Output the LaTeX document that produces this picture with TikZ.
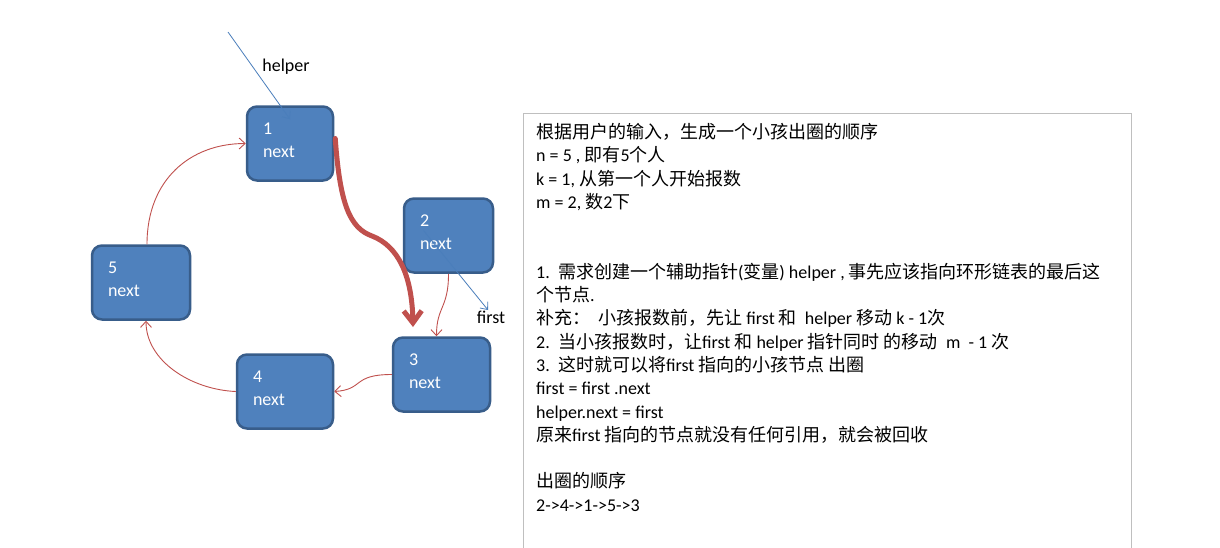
\documentclass[tikz,border=0pt]{standalone}
\usepackage{fontspec}
\setmainfont{Carlito}
\newfontfamily\cjk{Noto Sans CJK SC}
\usetikzlibrary{arrows.meta,calc}
\definecolor{NodeClr}{HTML}{4F81BD}
\definecolor{NodeLineClr}{HTML}{385D8A}
\definecolor{LinkClr}{HTML}{C0504D}
\definecolor{PtrClr}{HTML}{4A7EBB}
\definecolor{FrameClr}{HTML}{BFBFBF}
\newcommand\zh[1]{{\cjk #1}}

\begin{document}
\begin{tikzpicture}[x=1pt,y=-1pt,
  kid/.style={draw=NodeLineClr,line width=2.5pt,fill=NodeClr,rounded corners=10pt,
    text=white,font=\fontsize{18}{23}\selectfont,align=left,
    inner xsep=16pt,minimum height=74pt,text depth=29pt},
  link/.style={LinkClr,line width=0.9pt,-{Straight Barb[length=6pt,width=11pt]}},
  ptr/.style={PtrClr,line width=0.8pt,-{Straight Barb[length=6pt,width=10pt]}},
  ptrname/.style={font=\fontsize{18}{23}\selectfont,inner sep=0pt},
  notes/.style={font=\fontsize{18}{23.3}\selectfont,align=left,inner sep=0pt}]
\useasboundingbox[fill=white] (0,0) rectangle (1220,547);

% circular list
\node[kid,text width=54pt] (n1) at (290,143.5) {1\\next};
\node[kid,text width=57pt] (n2) at (448.5,235.5) {2\\next};
\node[kid,text width=65pt] (n3) at (441.5,374.5) {3\\next};
\node[kid,text width=64pt] (n4) at (285,391.5) {4\\next};
\node[kid,text width=66pt] (n5) at (141,282.5) {5\\next};

\draw[link] ($(n5.north)+(6,0)$) .. controls +(0,-65) and +(-55,0) .. (n1.west);
\draw[link] (n2.south) .. controls +(0,35) and +(0,-30) .. ($(n3.north)+(-5,0)$);
\draw[link] (n3.west) .. controls +(-40,0) and +(30,-2) .. (n4.east);
\draw[link] (n4.west) .. controls +(-45,-2) and +(0,40) .. ($(n5.south)+(5,0)$);

% pointers
\coordinate (helperTail) at (228,32);
\node[ptrname] (helper) at (286,67) {helper};
\draw[ptr] (helperTail) -- ($(n1.north)+(0,14)$);
\coordinate (firstTip) at (488,310);
\node[ptrname] (first) at (491,317) {first};
\draw[ptr] ($(n2.center)+(-25,-5)$) -- (firstTip);

% move of first
\coordinate (moveTip) at (413,327);
\draw[LinkClr,line width=5pt,line cap=round,-{Straight Barb[length=12pt,width=18pt]}]
  ($(n1.east)+(1,-5)$) .. controls (340,205) and (350,228) .. (372,236)
  .. controls (398,246) and (412,275) .. (moveTip);

% notes
\draw[FrameClr,line width=0.8pt] (523,113) rectangle (1131,560);
\node[notes,anchor=north west] (rules) at (536,123) {%
\zh{根据用户的输入，生成一个小孩出圈的顺序}\\
n = 5 , \zh{即有}5\zh{个人}\\
k = 1, \zh{从第一个人开始报数}\\
m = 2, \zh{数}2\zh{下}\\
~\\
~\\
1.\ \ \zh{需求创建一个辅助指针}(\zh{变量}) helper , \zh{事先应该指向环形链表的最后这}\\
\zh{个节点}.\\
\zh{补充：}\ \ \zh{小孩报数前，先让} first \zh{和}\ \ helper \zh{移动} k - 1\zh{次}\\
2.\ \ \zh{当小孩报数时，让}first \zh{和} helper \zh{指针同时} \zh{的移动}\ \ m\ \ - 1 \zh{次}\\
3.\ \ \zh{这时就可以将}first \zh{指向的小孩节点} \zh{出圈}\\
first = first .next\\
helper.next = first\\
\zh{原来}first \zh{指向的节点就没有任何引用，就会被回收}\\
~\\
\zh{出圈的顺序}\\
2->4->1->5->3};

\end{tikzpicture}
\end{document}
